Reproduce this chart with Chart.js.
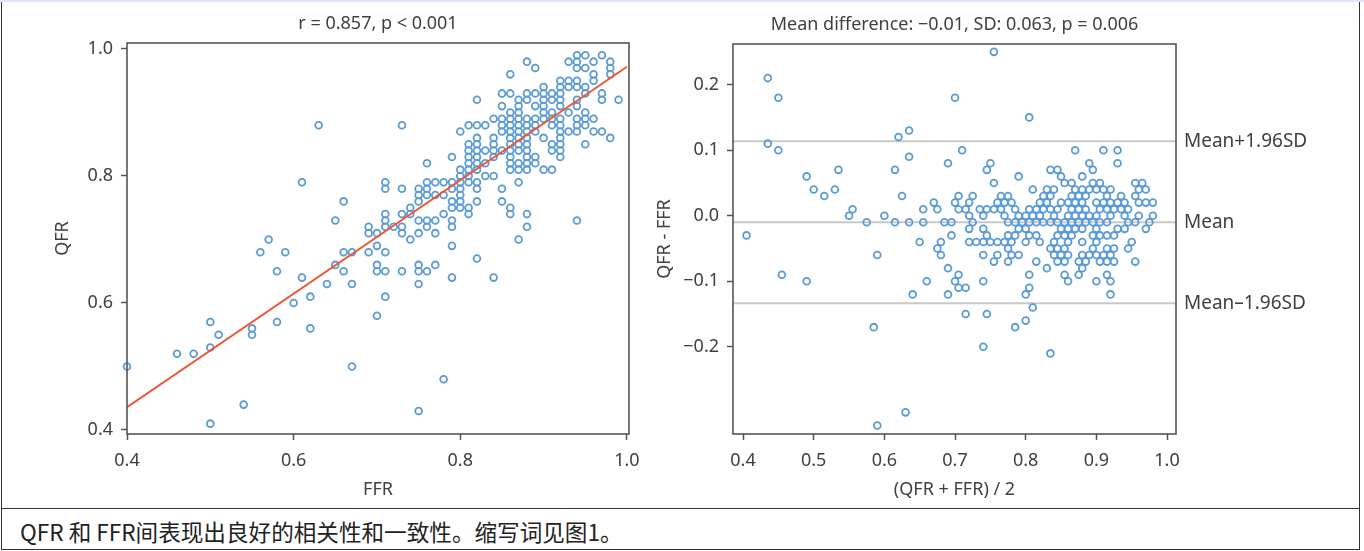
<!DOCTYPE html>
<html>
<head>
<meta charset="utf-8">
<script src="https://cdn.jsdelivr.net/npm/chart.js@4/dist/chart.umd.min.js"></script>
<style>
  body { margin: 0; background: #fff; }
  #topline { position: absolute; left: 0; top: 0; width: 1364px; height: 2px; background: #dbe7f3; }
  #frame { position: absolute; left: 1px; top: 2px; width: 1357px; height: 547px; border: 1px solid #333; border-top: none; }
  #sep { position: absolute; left: 1px; top: 508px; width: 1359px; height: 1px; background: #333; }
  #caption { position: absolute; left: 20px; top: 515px; font: 22.6px "Noto Sans CJK SC", "Noto Sans", sans-serif; color: #222; white-space: nowrap; }
  #left { position: absolute; left: 0; top: 0; }
  #right { position: absolute; left: 640px; top: 0; }
</style>
</head>
<body>
<div id="topline"></div>
<div id="frame"></div>
<div id="sep"></div>
<canvas id="left" width="640" height="505"></canvas>
<canvas id="right" width="700" height="505"></canvas>
<div id="caption">QFR 和 FFR间表现出良好的相关性和一致性。缩写词见图1。</div>
<script>
// QFR readings (one per row) and the FFR values recorded at that QFR
const qfrLevels = [0.99, 0.98, 0.97, 0.96, 0.95, 0.94, 0.93, 0.92, 0.91, 0.90,
  0.89, 0.88, 0.87, 0.86, 0.85, 0.84, 0.83, 0.82, 0.81, 0.80,
  0.79, 0.78, 0.77, 0.76, 0.75, 0.74, 0.73, 0.72, 0.71, 0.70,
  0.69, 0.68, 0.67, 0.66, 0.65, 0.64, 0.63, 0.61, 0.60, 0.58,
  0.57, 0.56, 0.55, 0.54, 0.53, 0.52, 0.50, 0.49, 0.48, 0.44,
  0.43, 0.41, 0.39];

const ffrAtLevel = [
  [0.94, 0.95, 0.97],
  [0.88, 0.93, 0.94, 0.96, 0.98],
  [0.89, 0.94, 0.95, 0.98],
  [0.86, 0.96, 0.98],
  [0.92, 0.93, 0.94, 0.96],
  [0.90, 0.92, 0.93, 0.94, 0.95],
  [0.85, 0.86, 0.88, 0.89, 0.90, 0.91, 0.92, 0.95, 0.97],
  [0.82, 0.87, 0.88, 0.90, 0.91, 0.92, 0.94, 0.97, 0.99],
  [0.85, 0.87, 0.89, 0.90, 0.92, 0.94],
  [0.86, 0.87, 0.90, 0.91, 0.93, 0.95],
  [0.84, 0.85, 0.86, 0.87, 0.88, 0.89, 0.90, 0.91, 0.92, 0.94, 0.95, 0.96],
  [0.63, 0.73, 0.81, 0.82, 0.83, 0.85, 0.86, 0.87, 0.88, 0.89, 0.91, 0.92, 0.94, 0.95],
  [0.80, 0.85, 0.86, 0.87, 0.88, 0.89, 0.92, 0.93, 0.94, 0.96, 0.97],
  [0.82, 0.84, 0.86, 0.87, 0.88, 0.90, 0.92, 0.98],
  [0.81, 0.82, 0.84, 0.86, 0.87, 0.88, 0.91, 0.92, 0.95],
  [0.81, 0.82, 0.83, 0.84, 0.85, 0.86, 0.87, 0.88, 0.91, 0.92],
  [0.79, 0.81, 0.82, 0.84, 0.86, 0.88, 0.89, 0.92],
  [0.76, 0.81, 0.82, 0.83, 0.86, 0.87, 0.88, 0.89],
  [0.80, 0.81, 0.82, 0.86, 0.87, 0.88, 0.90, 0.91],
  [0.80, 0.81, 0.83, 0.84],
  [0.61, 0.71, 0.76, 0.77, 0.78, 0.79, 0.80, 0.81, 0.82, 0.87],
  [0.71, 0.73, 0.75, 0.76, 0.79, 0.80, 0.82, 0.85],
  [0.75, 0.76, 0.77, 0.78, 0.80],
  [0.66, 0.75, 0.79, 0.80, 0.82, 0.85],
  [0.74, 0.79, 0.80, 0.81, 0.86],
  [0.71, 0.73, 0.74, 0.78, 0.81, 0.86, 0.88],
  [0.65, 0.71, 0.75, 0.76, 0.77, 0.79, 0.94],
  [0.69, 0.71, 0.72, 0.73, 0.76, 0.79, 0.88],
  [0.69, 0.70, 0.73, 0.75, 0.77],
  [0.57, 0.74, 0.87],
  [0.70, 0.79],
  [0.56, 0.59, 0.66, 0.67, 0.69, 0.71],
  [0.82],
  [0.65, 0.70, 0.75, 0.77],
  [0.58, 0.66, 0.70, 0.71, 0.73, 0.75, 0.76],
  [0.61, 0.79, 0.84],
  [0.64, 0.67, 0.75],
  [0.62, 0.71],
  [0.60],
  [0.70],
  [0.50, 0.58],
  [0.55, 0.62],
  [0.51, 0.55],
  [0.33, 0.36],
  [0.50],
  [0.46, 0.48],
  [0.40, 0.67],
  [0.38],
  [0.78],
  [0.54],
  [0.75],
  [0.50],
  [0.42]
];

// least-squares line, read at both ends of the FFR axis
const fitFfr = [0.40, 1.00];
const fitQfr = [0.436, 0.972];

// agreement statistics
const meanDiff = -0.01;
const sdDiff = 0.063;

const corrTitle = 'r = 0.857, p < 0.001';
const agreeTitle = 'Mean difference: \u22120.01, SD: 0.063, p = 0.006';

const leftXTicks = [0.4, 0.6, 0.8, 1.0];
const leftYTicks = [0.4, 0.6, 0.8, 1.0];
const rightXTicks = [0.4, 0.5, 0.6, 0.7, 0.8, 0.9, 1.0];
const rightYTicks = [-0.2, -0.1, 0.0, 0.1, 0.2];

// pair up the measurements
const pairs = [];
qfrLevels.forEach((q, i) => {
  ffrAtLevel[i].forEach(f => pairs.push({ ffr: f, qfr: q }));
});

const corrPoints = pairs.map(p => ({ x: p.ffr, y: p.qfr }));
const baPoints = pairs.map(p => ({ x: (p.qfr + p.ffr) / 2, y: p.qfr - p.ffr }));
const limits = [
  { label: 'Mean+1.96SD', value: meanDiff + 1.96 * sdDiff },
  { label: 'Mean', value: meanDiff },
  { label: 'Mean\u20131.96SD', value: meanDiff - 1.96 * sdDiff }
];

const FONT = '"Noto Sans", sans-serif';
const textColor = '#404040';
const frameColor = '#555';
const dotColor = '#5b9bd5';

function fmt(v) {
  const s = Math.abs(v).toFixed(1);
  return v < -1e-9 ? '\u2212' + s : s;
}

// box round the plot area plus the heading above it
const panelFrame = {
  id: 'panelFrame',
  afterDraw(chart, args, opts) {
    const { ctx, chartArea: a } = chart;
    ctx.save();
    ctx.strokeStyle = frameColor;
    ctx.lineWidth = 1.6;
    ctx.strokeRect(a.left, a.top, a.right - a.left, a.bottom - a.top);
    ctx.fillStyle = textColor;
    ctx.font = '18px ' + FONT;
    ctx.textAlign = 'center';
    ctx.textBaseline = 'middle';
    ctx.fillText(opts.text, (a.left + a.right) / 2, a.top - 19);
    ctx.restore();
  }
};

// names of the mean / limit lines, right of the plot
const limitLabels = {
  id: 'limitLabels',
  afterDraw(chart) {
    const { ctx, chartArea: a } = chart;
    const y = chart.scales.y;
    ctx.save();
    ctx.fillStyle = textColor;
    ctx.font = '19px ' + FONT;
    ctx.textAlign = 'left';
    ctx.textBaseline = 'middle';
    limits.forEach(l => ctx.fillText(l.label, a.right + 8, y.getPixelForValue(l.value)));
    ctx.restore();
  }
};

function axis(min, max, ticks, title, size, titlePad, horizontal) {
  return {
    type: 'linear',
    min: min,
    max: max,
    afterBuildTicks: s => { s.ticks = ticks.map(v => ({ value: v })); },
    afterFit: s => {
      // fixed axis box, no extra room for overhanging end labels
      if (horizontal) s.height = size; else s.width = size;
      s.paddingLeft = s.paddingRight = s.paddingTop = s.paddingBottom = 0;
    },
    grid: { drawOnChartArea: false, drawTicks: true, tickLength: 6, tickColor: frameColor, tickWidth: 1.5 },
    border: { display: false },
    ticks: { color: textColor, font: { family: FONT, size: 18 }, padding: horizontal ? 10 : 8, callback: v => fmt(v) },
    title: { display: true, text: title, color: textColor, font: { family: FONT, size: 18 }, padding: horizontal ? { bottom: titlePad } : { top: titlePad } }
  };
}

const common = {
  responsive: false,
  animation: false,
  devicePixelRatio: 1,
  events: [],
  plugins: { legend: { display: false }, tooltip: { enabled: false } }
};

new Chart(document.getElementById('left'), {
  type: 'scatter',
  data: {
    datasets: [
      {
        type: 'line',
        data: fitFfr.map((f, i) => ({ x: f, y: fitQfr[i] })),
        showLine: true,
        borderColor: '#ee5535',
        borderWidth: 2,
        pointRadius: 0
      },
      {
        data: corrPoints,
        pointRadius: 3.4,
        borderWidth: 1.8,
        borderColor: dotColor,
        backgroundColor: 'rgba(0,0,0,0)',
        clip: { left: 6, top: 6, right: 6, bottom: -2 }
      }
    ]
  },
  options: {
    ...common,
    layout: { padding: { top: 43, right: 11, left: 0, bottom: 0 } },
    scales: {
      x: axis(0.4, 1.0025, leftXTicks, 'FFR', 71, 4, true),
      y: axis(0.3937, 1.0094, leftYTicks, 'QFR', 127, 52, false)
    },
    plugins: { ...common.plugins, panelFrame: { text: corrTitle } }
  },
  plugins: [panelFrame]
});

const rXMin = 0.3858, rXMax = 1.0127;
new Chart(document.getElementById('right'), {
  type: 'scatter',
  data: {
    datasets: [
      {
        data: baPoints,
        pointRadius: 3.4,
        borderWidth: 1.8,
        borderColor: dotColor,
        backgroundColor: 'rgba(0,0,0,0)'
      },
      ...limits.map(l => ({
        type: 'line',
        data: [{ x: rXMin, y: l.value }, { x: rXMax, y: l.value }],
        showLine: true,
        borderColor: '#c8c8c8',
        borderWidth: 2,
        pointRadius: 0
      }))
    ]
  },
  options: {
    ...common,
    layout: { padding: { top: 44, right: 164, left: 0, bottom: 0 } },
    scales: {
      x: axis(rXMin, rXMax, rightXTicks, '(QFR + FFR) / 2', 71, 4, true),
      y: axis(-0.333, 0.262, rightYTicks, 'QFR - FFR', 93, 14, false)
    },
    plugins: { ...common.plugins, panelFrame: { text: agreeTitle } }
  },
  plugins: [panelFrame, limitLabels]
});
</script>
</body>
</html>
